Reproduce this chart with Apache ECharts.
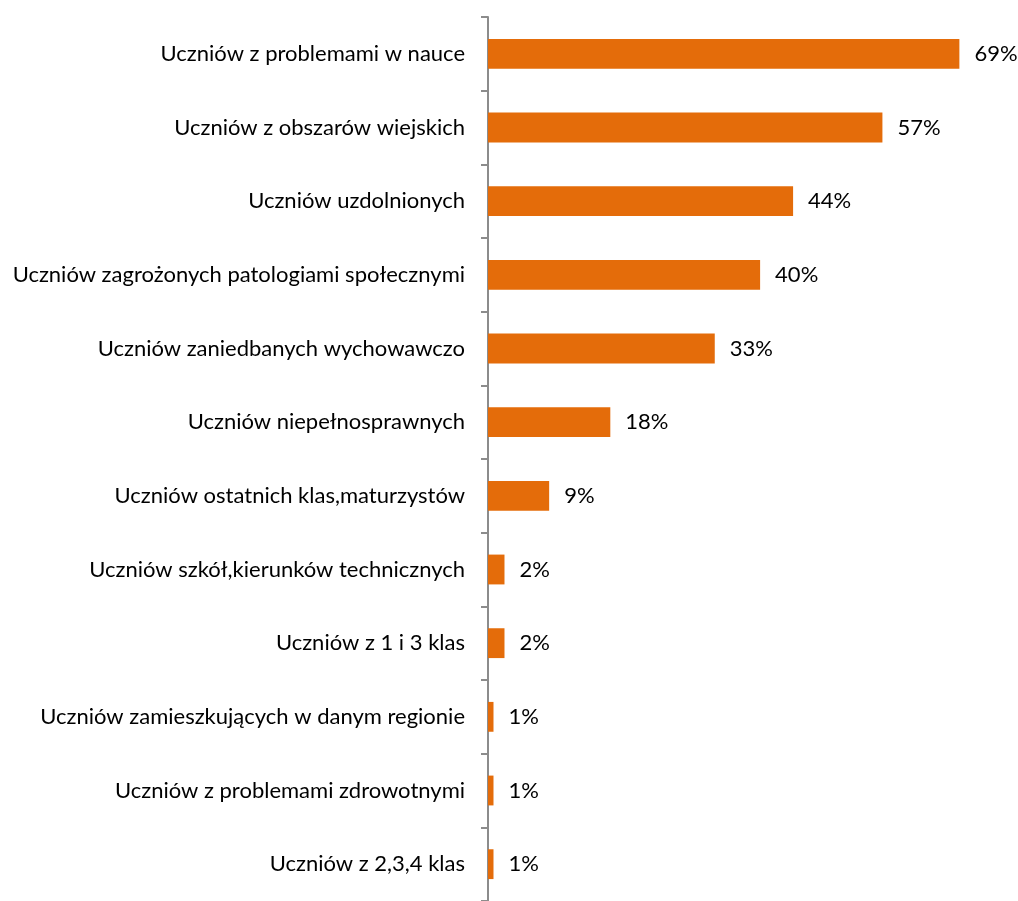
<!DOCTYPE html>
<html>
<head>
<meta charset="utf-8">
<script src="https://cdn.jsdelivr.net/npm/echarts@6/dist/echarts.min.js"></script>
<style>
  html, body { margin: 0; padding: 0; background: #fff; }
  #chart { width: 1018px; height: 901px; }
</style>
</head>
<body>
<div id="chart"></div>
<script>
// kategorie od góry do dołu
var categories = [
  'Uczniów z problemami w nauce',
  'Uczniów z obszarów wiejskich',
  'Uczniów uzdolnionych',
  'Uczniów zagrożonych patologiami społecznymi',
  'Uczniów zaniedbanych wychowawczo',
  'Uczniów niepełnosprawnych',
  'Uczniów ostatnich klas,maturzystów',
  'Uczniów szkół,kierunków technicznych',
  'Uczniów z 1 i 3 klas',
  'Uczniów zamieszkujących w danym regionie',
  'Uczniów z problemami zdrowotnymi',
  'Uczniów z 2,3,4 klas'
]
// odsetek (%)
var values = [68.6, 57.4, 44.4, 39.6, 33.0, 17.8, 8.9, 2.4, 2.4, 0.8, 0.8, 0.8]

var fontFamily = 'Lato, "Open Sans", sans-serif'

var option = {
  animation: false,
  grid: {
    left: 488,
    top: 17,
    width: 481,
    height: 890
  },
  xAxis: {
    type: 'value',
    min: 0,
    max: 70,
    show: false
  },
  yAxis: {
    type: 'category',
    inverse: true,
    data: categories,
    axisLine: {
      show: true,
      lineStyle: { color: '#8c8c8c', width: 2 }
    },
    axisTick: {
      show: true,
      length: 7,
      lineStyle: { color: '#8c8c8c', width: 2 }
    },
    axisLabel: {
      margin: 23,
      color: '#000',
      fontSize: 22,
      fontFamily: fontFamily
    },
    splitLine: { show: false }
  },
  series: [{
    type: 'bar',
    data: values,
    barWidth: '40.5%',
    itemStyle: { color: '#E46C0A' },
    label: {
      show: true,
      position: 'right',
      distance: 15,
      color: '#000',
      fontSize: 22,
      fontFamily: fontFamily,
      formatter: function (p) {
        return Math.round(p.value) + '%'
      }
    }
  }]
}

var myChart = echarts.init(document.getElementById('chart'))
myChart.setOption(option)
</script>
</body>
</html>
